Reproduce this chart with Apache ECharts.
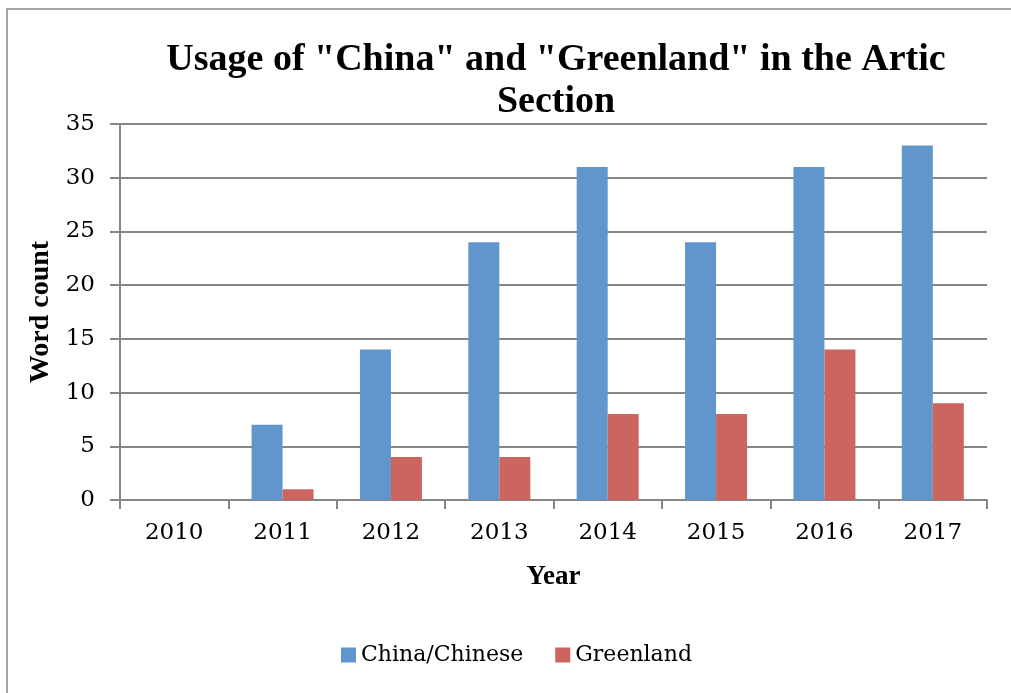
<!DOCTYPE html>
<html><head><meta charset="utf-8">
<script src="https://cdn.jsdelivr.net/npm/echarts@6/dist/echarts.min.js"></script>
<style>html,body{margin:0;padding:0;background:#fff}#c{width:1011px;height:693px}</style>
</head><body><div id="c"></div>
<script>
const categories = ['2010','2011','2012','2013','2014','2015','2016','2017'];
const chinaValues = [0, 7, 14, 24, 31, 24, 31, 33];
const greenlandValues = [0, 1, 4, 4, 8, 8, 14, 9];
const seriesNames = ['China/Chinese', 'Greenland'];
const yTicks = { min: 0, max: 35, interval: 5 };

const chart = echarts.init(document.getElementById('c'), null, { renderer: 'canvas' });
const serif = 'DejaVu Serif';
chart.setOption({
  animation: false,
  backgroundColor: '#fff',
  graphic: [{ type: 'rect', shape: { x: 7, y: 9, width: 1100, height: 800 }, style: { fill: 'none', stroke: '#a6a6a6', lineWidth: 2 }, silent: true }],
  title: {
    text: 'Usage of "China" and "Greenland" in the Artic\nSection',
    left: 551, top: 34, textAlign: 'center',
    textStyle: { fontFamily: 'Liberation Serif', fontWeight: 'bold', fontSize: 38, lineHeight: 42, color: '#000' }
  },
  legend: {
    bottom: 22, left: 336,
    itemWidth: 15, itemHeight: 15, itemGap: 32,
    icon: 'rect',
    textStyle: { fontFamily: serif, fontSize: 22, color: '#000' },
    data: seriesNames
  },
  grid: { left: 120, right: 24, top: 124, bottom: 193, containLabel: false },
  xAxis: {
    type: 'category', data: categories,
    name: 'Year', nameLocation: 'middle', nameGap: 64,
    nameTextStyle: { fontFamily: 'Liberation Serif', fontWeight: 'bold', fontSize: 27, color: '#000' },
    axisLine: { lineStyle: { color: '#868686', width: 2 } },
    axisTick: { show: true, length: 9, alignWithLabel: false, lineStyle: { color: '#868686', width: 2 } },
    axisLabel: { fontFamily: serif, fontSize: 23, color: '#000', margin: 22 }
  },
  yAxis: {
    type: 'value', min: yTicks.min, max: yTicks.max, interval: yTicks.interval,
    name: 'Word count', nameLocation: 'middle', nameGap: 63, nameRotate: 90,
    nameTextStyle: { fontFamily: 'Liberation Serif', fontWeight: 'bold', fontSize: 28, color: '#000' },
    axisLine: { show: true, lineStyle: { color: '#868686', width: 2 } },
    axisTick: { show: true, length: 10, lineStyle: { color: '#868686', width: 2 } },
    splitLine: { lineStyle: { color: '#868686', width: 2 } },
    axisLabel: { fontFamily: serif, fontSize: 23, color: '#000', margin: 25 }
  },
  series: [
    { name: seriesNames[0], type: 'bar', data: chinaValues, barWidth: 31, barGap: '0%', itemStyle: { color: '#6096cb' } },
    { name: seriesNames[1], type: 'bar', data: greenlandValues, barWidth: 31, barGap: '0%', itemStyle: { color: '#cc6460' } }
  ]
});
</script></body></html>
